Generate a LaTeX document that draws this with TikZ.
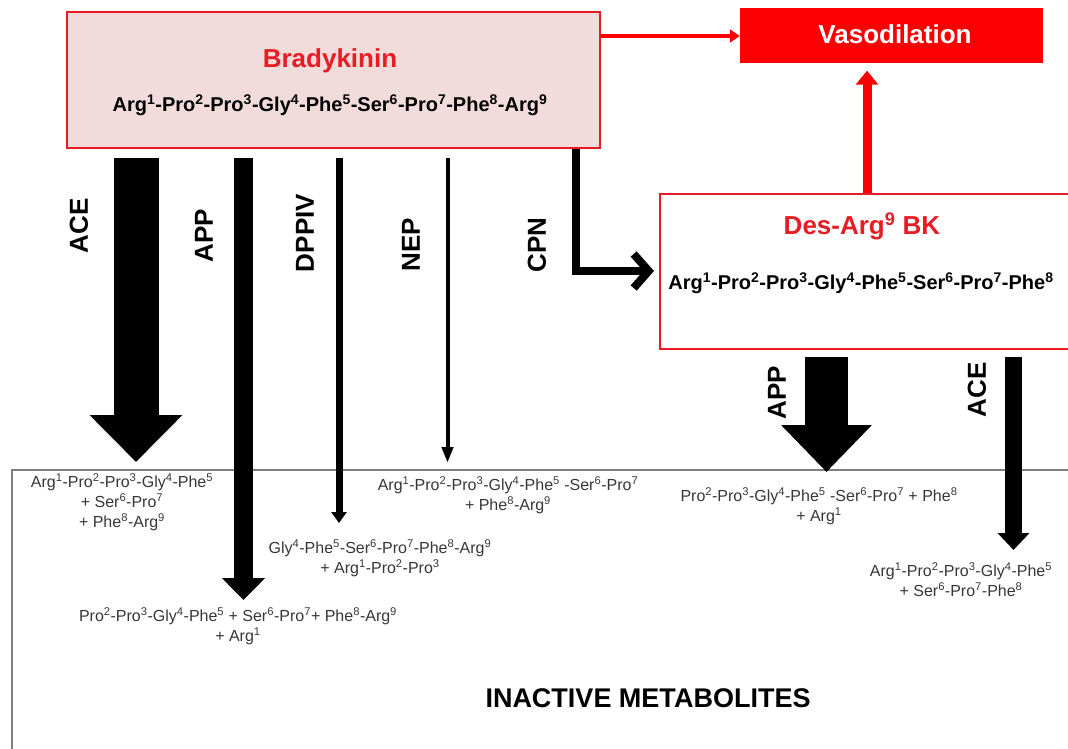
\documentclass[tikz,border=0pt]{standalone}
\usepackage{fontspec}
\setmainfont{Liberation Sans}
\usetikzlibrary{arrows.meta}
\definecolor{bkred}{RGB}{232,28,36}
\definecolor{vasored}{RGB}{250,0,0}
\definecolor{bkfill}{RGB}{242,220,219}
\definecolor{txtgray}{RGB}{55,55,55}
\newcommand\sps[1]{\textsuperscript{#1}}
\begin{document}
\begin{tikzpicture}[x=1pt,y=-1pt,
  box/.style={draw=bkred, line width=2pt, inner sep=0pt},
  lbl/.style={font=\fontsize{26}{30}\selectfont\bfseries, rotate=90, inner sep=0pt},
  prod/.style={font=\fontsize{16}{20}\selectfont, text=txtgray, align=center, inner sep=0pt},
  seqtxt/.style={font=\fontsize{20}{24}\selectfont\bfseries, inner sep=0pt},
  ttl/.style={font=\fontsize{26}{30}\selectfont\bfseries, text=bkred, inner sep=0pt},
  blk/.style={draw=black},
]
\useasboundingbox (0,0) rectangle (1068,749);
\fill[white] (0,0) rectangle (1068,749);

% metabolites container
\draw[gray, line width=1.5pt] (1070,470) -- (12,470) -- (12,751);
\node[font=\fontsize{27}{30}\selectfont\bfseries, inner sep=0pt] (inact) at (648,698) {INACTIVE METABOLITES};

% boxes
\node[box, fill=bkfill, minimum width=533pt, minimum height=136pt] (bk) at (333.5,80) {};
\node[ttl] (bkt) at (330,61) {Bradykinin};
\node[seqtxt] (bks) at (330,105) {Arg\sps{1}-Pro\sps{2}-Pro\sps{3}-Gly\sps{4}-Phe\sps{5}-Ser\sps{6}-Pro\sps{7}-Phe\sps{8}-Arg\sps{9}};

\node[fill=vasored, minimum width=303pt, minimum height=55pt, inner sep=0pt] (vaso) at (891.5,36) {};
\node[font=\fontsize{26}{30}\selectfont\bfseries, text=white, inner sep=0pt] (vasot) at (895,34) {Vasodilation};

\node[box, fill=white, minimum width=414pt, minimum height=155pt] (des) at (867,271) {};
\node[ttl] (dest) at (862,226) {Des-Arg\sps{9} BK};
\node[seqtxt] (dess) at (861,283) {Arg\sps{1}-Pro\sps{2}-Pro\sps{3}-Gly\sps{4}-Phe\sps{5}-Ser\sps{6}-Pro\sps{7}-Phe\sps{8}};

% red arrows
\draw[vasored, line width=4pt, -{Triangle[width=13pt,length=10pt]}] (vaso.west -| bk.east) -- (vaso.west);
\draw[vasored, line width=9pt, -{Triangle[width=22pt,length=14pt]}, shorten >=7pt] (des.north) -- (des.north |- vaso.south);

% free ends
\coordinate (aceT) at (136,462);
\coordinate (appT) at (243.5,600);
\coordinate (dppT) at (339,523);
\coordinate (nepT) at (447.5,463);
\coordinate (cpnX) at (576,200);
\coordinate (rappT) at (826.5,472);
\coordinate (raceT) at (1013.5,550);

% black arrows from bradykinin
\draw[line width=45pt, -{Triangle[width=90pt,length=47pt]}, shorten <=9pt] (bk.south -| aceT) -- (aceT);
\draw[line width=19pt, -{Triangle[width=42pt,length=22pt]}, shorten <=9pt] (bk.south -| appT) -- (appT);
\draw[line width=7pt, -{Triangle[width=15pt,length=11pt]}, shorten <=9pt] (bk.south -| dppT) -- (dppT);
\draw[line width=4pt, -{Triangle[width=11pt,length=16pt]}, shorten <=9pt] (bk.south -| nepT) -- (nepT);
\draw[line width=8pt, line join=miter, -{Straight Barb[length=15pt,width=34pt]}, shorten >=5pt] (bk.south -| cpnX) |- (des.west);

% black arrows from des-arg9 BK
\draw[line width=43pt, -{Triangle[width=88pt,length=47pt]}, shorten <=7pt] (des.south -| rappT) -- (rappT);
\draw[line width=17pt, -{Triangle[width=31pt,length=17pt]}, shorten <=7pt] (des.south -| raceT) -- (raceT);

% enzyme labels
\node[lbl] (lace) at (79,226) {ACE};
\node[lbl] (lapp) at (204,236) {APP};
\node[lbl] (ldpp) at (305,233) {DPPIV};
\node[lbl] (lnep) at (411,245) {NEP};
\node[lbl] (lcpn) at (537,245) {CPN};
\node[lbl] (lrapp) at (777,393) {APP};
\node[lbl] (lrace) at (977,390) {ACE};

% products
\node[prod] (m1) at (122,502) {Arg\sps{1}-Pro\sps{2}-Pro\sps{3}-Gly\sps{4}-Phe\sps{5}\\ + Ser\sps{6}-Pro\sps{7}\\ + Phe\sps{8}-Arg\sps{9}};
\node[prod] (m2) at (380,558) {Gly\sps{4}-Phe\sps{5}-Ser\sps{6}-Pro\sps{7}-Phe\sps{8}-Arg\sps{9}\\ + Arg\sps{1}-Pro\sps{2}-Pro\sps{3}};
\node[prod] (m3) at (238,626) {Pro\sps{2}-Pro\sps{3}-Gly\sps{4}-Phe\sps{5} + Ser\sps{6}-Pro\sps{7}+ Phe\sps{8}-Arg\sps{9}\\ + Arg\sps{1}};
\node[prod] (m4) at (508,495) {Arg\sps{1}-Pro\sps{2}-Pro\sps{3}-Gly\sps{4}-Phe\sps{5} -Ser\sps{6}-Pro\sps{7}\\ + Phe\sps{8}-Arg\sps{9}};
\node[prod] (m5) at (819,506) {Pro\sps{2}-Pro\sps{3}-Gly\sps{4}-Phe\sps{5} -Ser\sps{6}-Pro\sps{7} + Phe\sps{8}\\ + Arg\sps{1}};
\node[prod] (m6) at (961,580) {Arg\sps{1}-Pro\sps{2}-Pro\sps{3}-Gly\sps{4}-Phe\sps{5}\\ + Ser\sps{6}-Pro\sps{7}-Phe\sps{8}};
\end{tikzpicture}
\end{document}
